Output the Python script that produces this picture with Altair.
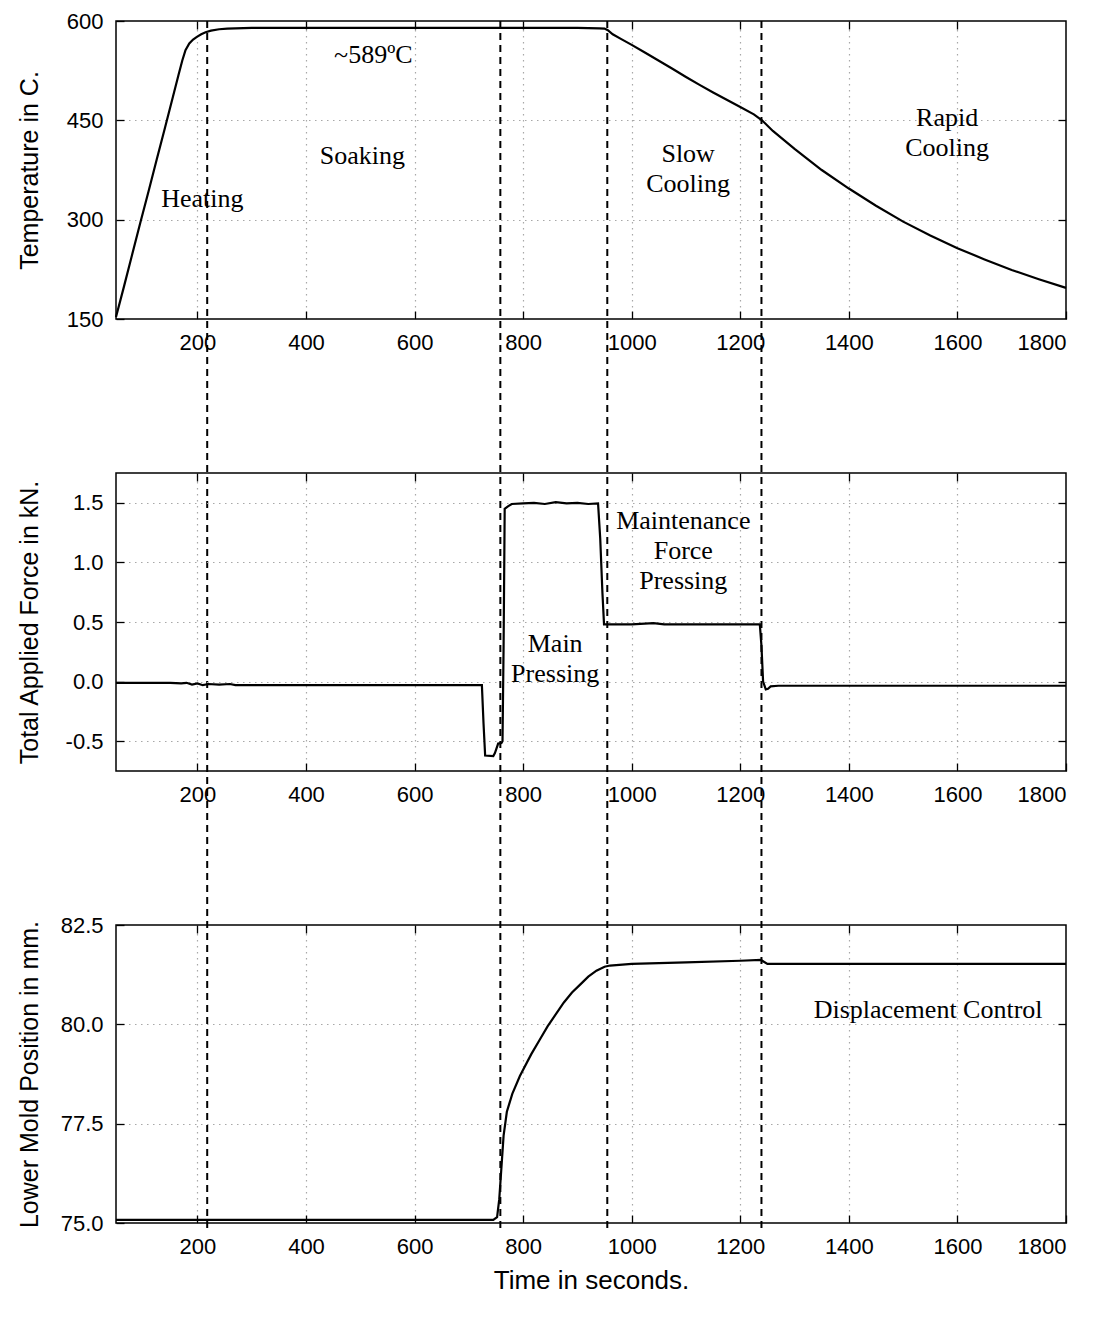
import altair as alt
import pandas as pd

# ---------------- data ----------------
time_ticks = [200, 400, 600, 800, 1000, 1200, 1400, 1600, 1800]
temp_ticks = [150, 300, 450, 600]
force_ticks = [-0.5, 0.0, 0.5, 1.0, 1.5]
pos_ticks = [75.0, 77.5, 80.0, 82.5]
phase_bounds = [218, 758, 955, 1239]

temp_t = [50, 65, 80, 95, 110, 125, 140, 155, 165, 172, 178, 185, 192, 199, 207, 215, 225,
          240, 255, 270, 300, 400, 500, 600, 700, 800, 900, 940, 950, 956, 965, 980, 1000,
          1025, 1050, 1075, 1100, 1125, 1150, 1175, 1200, 1225, 1240, 1260, 1300, 1350,
          1400, 1450, 1500, 1550, 1600, 1650, 1700, 1750, 1800]
temp_v = [153, 200, 248, 296, 343, 391, 438, 486, 518, 540, 556, 566, 572, 576, 580, 583, 585.5,
          587.5, 588.5, 589, 589.5, 589.5, 589.5, 589.5, 589.5, 589.5, 589.5, 589, 588.5, 586, 580,
          573, 564, 552, 540, 528, 515.5, 503.5, 492, 481, 470, 459, 450, 434, 407, 375,
          347, 321, 297, 276, 257, 240, 224, 210, 197]

force_t = [50, 150, 170, 180, 190, 200, 210, 220, 240, 260, 270, 400, 600, 724, 727, 730,
           745, 748, 754, 760, 762, 764, 766, 772, 779, 800, 820, 840, 860, 880, 900, 920,
           938, 942, 946, 949, 960, 1000, 1040, 1060, 1100, 1200, 1236, 1239, 1242, 1247,
           1251, 1256, 1270, 1400, 1600, 1800]
force_v = [-0.01, -0.01, -0.015, -0.01, -0.025, -0.015, -0.03, -0.02, -0.025, -0.02, -0.03,
           -0.03, -0.03, -0.03, -0.35, -0.62, -0.625, -0.6, -0.52, -0.515, -0.5, 0.3, 1.45,
           1.47, 1.49, 1.495, 1.5, 1.49, 1.505, 1.495, 1.5, 1.49, 1.495, 1.2, 0.75, 0.48,
           0.48, 0.48, 0.49, 0.48, 0.48, 0.48, 0.48, 0.3, 0.0, -0.065, -0.06, -0.04, -0.035,
           -0.035, -0.035, -0.035]

pos_t = [50, 300, 600, 745, 752, 756, 760, 764, 770, 780, 794, 815, 830, 845, 860, 875, 890,
         905, 920, 935, 950, 960, 1000, 1100, 1200, 1238, 1250, 1400, 1600, 1800]
pos_v = [75.08, 75.08, 75.08, 75.08, 75.15, 75.6, 76.4, 77.2, 77.8, 78.25, 78.7, 79.25, 79.6,
         79.95, 80.25, 80.55, 80.8, 81.0, 81.2, 81.35, 81.45, 81.48, 81.52, 81.56, 81.6, 81.62,
         81.52, 81.52, 81.52, 81.52]

temp_labels = ["~589ºC", "Heating", "Soaking", "Slow\nCooling", "Rapid\nCooling"]
temp_lab_x = [524, 209, 504, 1104, 1581]
temp_lab_y = [548, 331, 396, 399, 453]

force_labels = ["Maintenance\nForce\nPressing", "Main\nPressing"]
force_lab_x = [1095, 859]
force_lab_y = [1.346, 0.316]

pos_labels = ["Displacement Control"]
pos_lab_x = [1546]
pos_lab_y = [80.35]

# ---------------- styling ----------------
W, H, S = 950, 298, 154
RULE_LEN = 3 * H + 2 * S + 5
SANS = "Liberation Sans"
SERIF = "Liberation Serif"
GRID = dict(gridColor="#a8a8a8", gridDash=[1.5, 4.5], gridWidth=1.2)

xs = alt.Scale(domain=[50, 1800], nice=False, zero=False)


def inner(ticks, dom):
    return [t for t in ticks if dom[0] < t < dom[1]]


def x_axis(orient, labels, values, title=None, grid=False):
    kw = dict(orient=orient, values=values, grid=grid, domain=False, ticks=True, tickSize=8,
              tickWidth=1.3, tickColor="black", offset=-8, labels=labels, format="d",
              labelFont=SANS, labelFontSize=22, labelColor="black", labelPadding=13,
              titleFont=SANS, titleFontSize=26, titleFontWeight="normal",
              titleColor="black", titlePadding=10, title=title, **GRID)
    return alt.Axis(**kw)


def y_axis(orient, labels, values, title=None, grid=False, fmt=None):
    kw = dict(orient=orient, values=values, grid=grid, domain=False, ticks=True, tickSize=8,
              tickWidth=1.3, tickColor="black", offset=-8, labels=labels,
              labelFont=SANS, labelFontSize=22, labelColor="black", labelPadding=13,
              titleFont=SANS, titleFontSize=25, titleFontWeight="normal",
              titleColor="black", title=title, titleX=-82, titleY=H / 2, **GRID)
    if fmt is not None:
        kw["labelExpr"] = ("datum.value < 0 ? '-' + format(-datum.value, '" + fmt +
                           "') : format(datum.value, '" + fmt + "')")
    return alt.Axis(**kw)


def panel(t, v, ydom, yticks, ytitle, labels, lx, ly, xtitle=None, fmt=None, rules=False):
    ys = alt.Scale(domain=ydom, nice=False, zero=False)
    df = pd.DataFrame({"t": t, "v": v})
    line = alt.Chart(df).mark_line(color="black", strokeWidth=2.2).encode(
        x=alt.X("t:Q", scale=xs, axis=x_axis("bottom", True, time_ticks, xtitle)),
        y=alt.Y("v:Q", scale=ys, axis=y_axis("left", True, yticks, ytitle, fmt=fmt)),
    )
    mirror = alt.Chart(df).mark_line(strokeOpacity=0).encode(
        x=alt.X("t:Q", scale=xs, axis=x_axis("top", False, inner(time_ticks, [50, 1800]), grid=True)),
        y=alt.Y("v:Q", scale=ys, axis=y_axis("right", False, inner(yticks, ydom), grid=True)),
    )
    tdf = pd.DataFrame({"x": lx, "y": ly, "label": labels})
    text = alt.Chart(tdf).mark_text(font=SERIF, fontSize=26, lineHeight=30, lineBreak="\n",
                                    align="center", baseline="middle", color="black").encode(
        x=alt.X("x:Q", scale=xs, axis=None),
        y=alt.Y("y:Q", scale=ys, axis=None),
        text="label:N",
    )
    layers = [mirror, line, text]
    if rules:
        rdf = pd.DataFrame({"t": phase_bounds})
        rule = alt.Chart(rdf).mark_rule(color="black", strokeWidth=2, strokeDash=[7, 5]).encode(
            x=alt.X("t:Q", scale=xs, axis=None),
            y=alt.value(0),
            y2=alt.value(RULE_LEN),
        )
        layers.append(rule)
    return alt.layer(*layers).resolve_axis(x="independent", y="independent").properties(
        width=W, height=H)


top = panel(temp_t, temp_v, [150, 600], temp_ticks, "Temperature in C.",
            temp_labels, temp_lab_x, temp_lab_y, rules=True)
mid = panel(force_t, force_v, [-0.75, 1.75], force_ticks, "Total Applied Force in kN.",
            force_labels, force_lab_x, force_lab_y, fmt=".1f")
bot = panel(pos_t, pos_v, [75, 82.5], pos_ticks, "Lower Mold Position in mm.",
            pos_labels, pos_lab_x, pos_lab_y, xtitle="Time in seconds.", fmt=".1f")

chart = alt.vconcat(top, mid, bot, spacing=S, bounds="flush").properties(
    padding={"left": 16, "top": 9, "right": 5, "bottom": 5},
    background="white",
).configure_view(stroke="black", strokeWidth=1.5)

chart.save("out.html", embed_options={"renderer": "svg", "actions": False})
